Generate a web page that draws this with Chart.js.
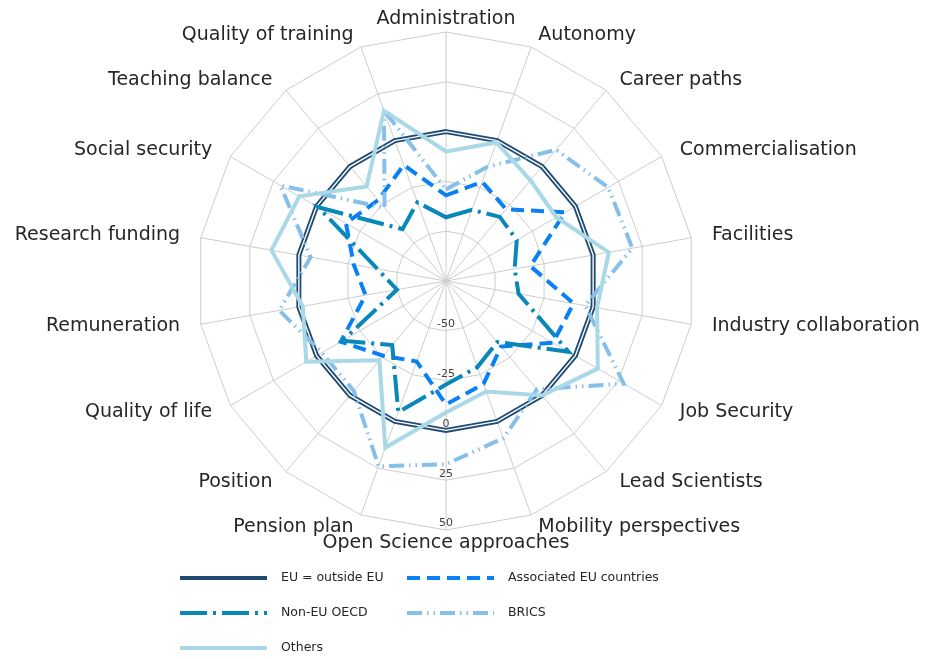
<!DOCTYPE html>
<html>
<head>
<meta charset="utf-8">
<title>Radar</title>
<script src="https://cdn.jsdelivr.net/npm/chart.js@4.4.0/dist/chart.umd.min.js"></script>
<style>
    html, body { margin: 0; padding: 0; background: #fff; }
    #wrap { width: 927px; height: 659px; }
</style>
</head>
<body>
<div id="wrap"><canvas id="radar" width="927" height="659"></canvas></div>
<script>
// categories, clockwise from the top
const categories = [
    'Administration', 'Autonomy', 'Career paths', 'Commercialisation', 'Facilities',
    'Industry collaboration', 'Job Security', 'Lead Scientists', 'Mobility perspectives',
    'Open Science approaches', 'Pension plan', 'Position', 'Quality of life', 'Remuneration',
    'Research funding', 'Social security', 'Teaching balance', 'Quality of training'
];
const tickLabels = [-50, -25, 0, 25, 50];

const euOutside  = [0, 0, 0, 0, 0, 0, 0, 0, 0, 0, 0, 0, 0, 0, 0, 0, 0, 0];
const associated = [-32, -22, -28, -6, -32, -10, -13, -32, -20, -13, -32, -26, -14, -34, -28, -17, -22, -13];
const nonEuOecd  = [-43, -37, -33, -34, -40, -38, -4, -35, -29, -23, -5, -33, -15, -50, -40, -1, -41, -33];
const brics      = [-29, -14, 11, 19, 20, -4, 28, -4, 9, 17, 24, -3, -3, 10, -6, 21, -27, 16];
const others     = [-10, -1, -9, -11, 8, 2, 13, 0, -16, -9, 14, -23, 6, -2, 14, 10, -13, 16];

const FONT = "'DejaVu Sans', sans-serif";

function line(label, data, color, width, dash, order) {
    return {
        label, data, order,
        borderColor: color,
        borderWidth: width,
        borderDash: dash,
        fill: false,
        pointRadius: 0,
        pointHoverRadius: 0,
        tension: 0
    };
}

const datasets = [
    line('EU = outside EU', euOutside, '#1f4b73', 5, [], 6),
    line('', euOutside, '#ffffff', 1.4, [], 5),   // white core of the double line
    line('Associated EU countries', associated, '#0a80f5', 4, [13, 7], 4),
    line('Non-EU OECD', nonEuOecd, '#0887b9', 4, [27, 6, 3, 6], 3),
    line('BRICS', brics, '#86bfe9', 4, [15, 5, 1.5, 5, 1.5, 5], 2),
    line('Others', others, '#a9d8e6', 4, [], 1)
];

// category names + value ticks (ticks run downward like the original)
const labelPlugin = {
    id: 'labelPlugin',
    afterDatasetsDraw(chart) {
        const scale = chart.scales.r;
        const ctx = chart.ctx;
        const R = scale.drawingArea;
        ctx.save();
        ctx.font = '19px ' + FONT;
        ctx.fillStyle = '#262626';
        ctx.textBaseline = 'middle';
        categories.forEach((name, i) => {
            const s = Math.sin(scale.getIndexAngle(i));
            const px = scale.getPointPosition(i, R + 21);
            const py = scale.getPointPosition(i, R + 13);
            ctx.textAlign = Math.abs(s) < 0.01 ? 'center' : (s > 0 ? 'left' : 'right');
            ctx.fillText(name, px.x, py.y);
        });
        ctx.font = '11px ' + FONT;
        ctx.fillStyle = '#404040';
        ctx.textAlign = 'center';
        ctx.textBaseline = 'bottom';
        tickLabels.forEach(v => {
            const d = scale.getDistanceFromCenterForValue(v);
            ctx.fillText(String(v), scale.xCenter, scale.yCenter + d - 1);
        });
        ctx.restore();
    }
};

// two-column legend under the chart
const legendPlugin = {
    id: 'legendPlugin',
    afterDraw(chart) {
        const ctx = chart.ctx;
        const items = chart.data.datasets.filter(d => d.label);
        const colX = [180, 407];
        const rowY = [578, 613, 648];
        ctx.save();
        ctx.font = '12.5px ' + FONT;
        ctx.fillStyle = '#262626';
        ctx.textBaseline = 'middle';
        items.forEach((ds, i) => {
            const x = colX[i % 2];
            const y = rowY[Math.floor(i / 2)];
            ctx.beginPath();
            ctx.strokeStyle = ds.borderColor;
            ctx.lineWidth = 4;
            ctx.setLineDash(ds.borderDash);
            ctx.moveTo(x, y);
            ctx.lineTo(x + 87, y);
            ctx.stroke();
            ctx.setLineDash([]);
            ctx.fillText(ds.label, x + 101, y);
        });
        ctx.restore();
    }
};

new Chart(document.getElementById('radar'), {
    type: 'radar',
    data: { labels: categories, datasets },
    options: {
        responsive: false,
        animation: false,
        layout: { padding: { top: 32, bottom: 129, left: 121, right: 156 } },
        plugins: { legend: { display: false }, tooltip: { enabled: false } },
        elements: { line: { borderJoinStyle: 'miter' } },
        scales: {
            r: {
                min: -75,
                max: 50,
                ticks: { stepSize: 25, display: false },
                pointLabels: { display: false },
                grid: { color: '#cccccc', lineWidth: 1 },
                angleLines: { color: '#cccccc', lineWidth: 1 }
            }
        }
    },
    plugins: [labelPlugin, legendPlugin]
});
</script>
</body>
</html>
